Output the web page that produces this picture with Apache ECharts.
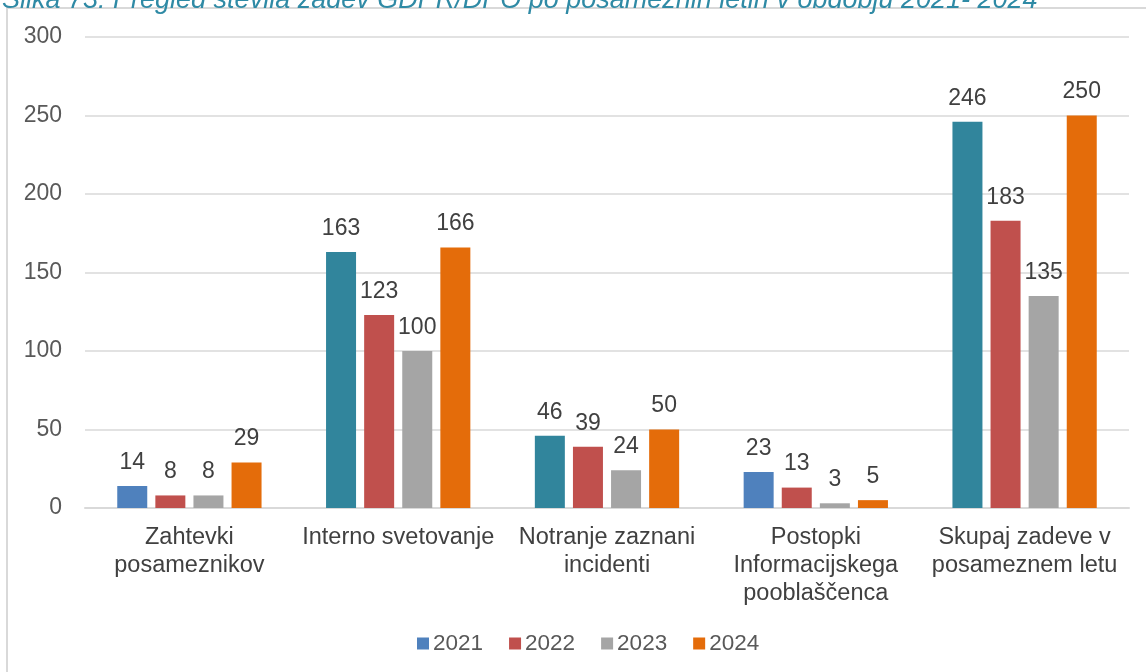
<!DOCTYPE html>
<html>
<head>
<meta charset="utf-8">
<script src="https://cdn.jsdelivr.net/npm/echarts@6/dist/echarts.min.js"></script>
<style>html,body{margin:0;padding:0;background:#fff;}#c{width:1146px;height:672px;}</style>
</head>
<body>
<div id="c"></div>
<script>
var categories = ['Zahtevki\nposameznikov', 'Interno svetovanje', 'Notranje zaznani\nincidenti', 'Postopki\nInformacijskega\npooblaščenca', 'Skupaj zadeve v\nposameznem letu'];
var seriesNames = ['2021', '2022', '2023', '2024'];
var v2021 = [14, 163, 46, 23, 246];
var v2022 = [8, 123, 39, 13, 183];
var v2023 = [8, 100, 24, 3, 135];
var v2024 = [29, 166, 50, 5, 250];
var yTicks = [0, 50, 100, 150, 200, 250, 300];
var titleText = 'Slika 73: Pregled števila zadev GDPR/DPO po posameznih letih v obdobju 2021- 2024';

var colors = ['#4f81bd', '#c0504d', '#a5a5a5', '#e46c0a'];
var teal = '#31859c';
var tealIdx = [1, 2, 4];
var allValues = [v2021, v2022, v2023, v2024];

var chart = echarts.init(document.getElementById('c'), null, {renderer: 'canvas'});
var font = 'Liberation Sans, Arial, sans-serif';
var series = seriesNames.map(function (name, i) {
  return {
    name: name,
    type: 'bar',
    barWidth: 30,
    barGap: '27%',
    itemStyle: {color: colors[i]},
    data: allValues[i].map(function (v, j) {
      if (i === 0 && tealIdx.indexOf(j) >= 0) return {value: v, itemStyle: {color: teal}};
      return v;
    }),
    label: {show: true, position: 'top', distance: 12, color: '#404040', fontSize: 23, fontFamily: font}
  };
});

chart.setOption({
  animation: false,
  color: colors,
  graphic: [
    {type: 'rect', shape: {x: 7, y: 8, width: 1160, height: 700}, style: {fill: 'none', stroke: '#d9d9d9', lineWidth: 2}, z: -1},
    {type: 'text', x: 2, y: 14, style: {text: titleText, fill: '#2f8aa5', font: 'italic 27px ' + font, textVerticalAlign: 'bottom', verticalAlign: 'bottom'}}
  ],
  legend: {
    bottom: 12, left: 412,
    itemWidth: 12, itemHeight: 12, itemGap: 26,
    icon: 'rect',
    textStyle: {color: '#595959', fontSize: 22.5, fontFamily: font, padding: [0, 0, 0, -1]},
    data: seriesNames.map(function (n, i) { return {name: n, itemStyle: {color: colors[i]}}; })
  },
  grid: {left: 85, right: 17, top: 37, bottom: 164, containLabel: false},
  xAxis: {
    type: 'category', data: categories,
    axisLine: {lineStyle: {color: '#d9d9d9', width: 2}},
    axisTick: {show: false},
    axisLabel: {color: '#404040', fontSize: 23.5, fontFamily: font, lineHeight: 28, margin: 16, interval: 0}
  },
  yAxis: {
    type: 'value', min: 0, max: 300, interval: 50,
    axisLine: {show: false}, axisTick: {show: false},
    splitLine: {lineStyle: {color: '#d9d9d9', width: 1.5}},
    axisLabel: {color: '#595959', fontSize: 23, fontFamily: font, margin: 23}
  },
  series: series
});
</script>
</body>
</html>
